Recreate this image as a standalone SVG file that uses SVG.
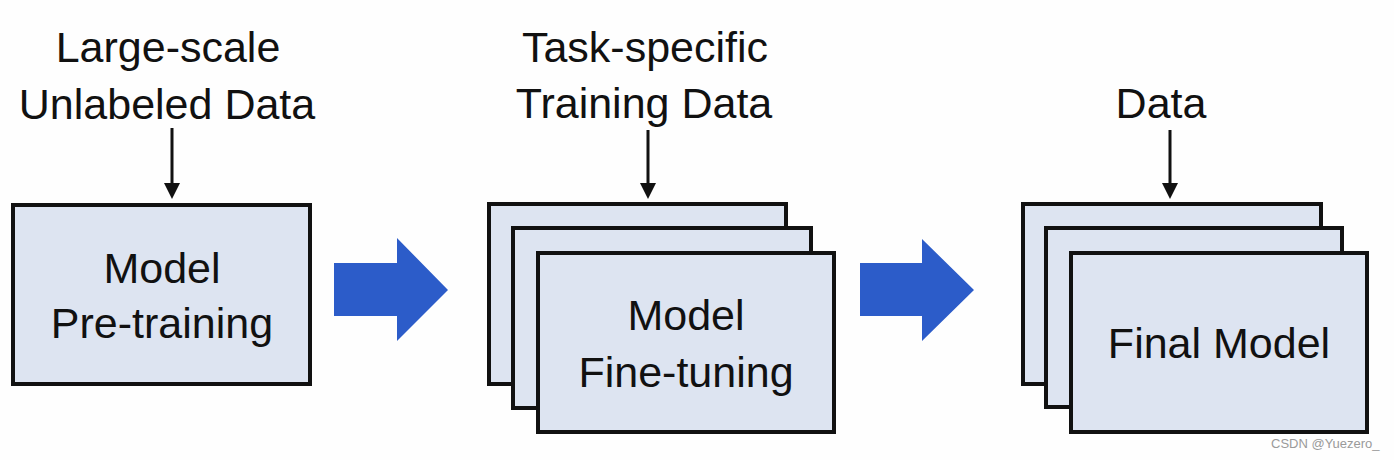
<svg xmlns="http://www.w3.org/2000/svg" width="1394" height="460" viewBox="0 0 1394 460">
<style>
.box{fill:#dde4f1;stroke:#111;stroke-width:4}
.t{font-family:"Liberation Sans",Arial,sans-serif;font-size:43px;fill:#111;text-anchor:middle}
.ln{stroke:#111;stroke-width:3;fill:none}
.hd{fill:#111}
.big{fill:#2c5cc9}
.wm{font-family:"Liberation Sans",Arial,sans-serif;font-size:13px;fill:#9a9a9a}
</style>
<rect width="1394" height="460" fill="#fefefe"/>
<g id="label-unlabeled">
<text class="t" x="168" y="62">Large-scale</text>
<text class="t" x="167" y="119">Unlabeled Data</text>
</g>
<g id="label-task">
<text class="t" x="645" y="62">Task-specific</text>
<text class="t" x="644" y="118">Training Data</text>
</g>
<g id="label-data">
<text class="t" x="1161" y="118">Data</text>
</g>
<g id="node-pretraining">
<rect class="box" x="13" y="205" width="297" height="179"/>
<text class="t" x="162" y="283">Model</text>
<text class="t" x="162" y="338">Pre-training</text>
</g>
<g id="node-finetuning">
<rect class="box" x="489" y="204" width="297" height="180"/>
<rect class="box" x="513" y="228" width="298" height="180"/>
<rect class="box" x="538" y="253" width="296" height="179"/>
<text class="t" x="686" y="330">Model</text>
<text class="t" x="686" y="387">Fine-tuning</text>
</g>
<g id="node-final">
<rect class="box" x="1023" y="204" width="298" height="180"/>
<rect class="box" x="1046" y="228" width="296" height="179"/>
<rect class="box" x="1071" y="253" width="296" height="179"/>
<text class="t" x="1219" y="358">Final Model</text>
</g>
<g id="connectors">
<line class="ln" x1="172" y1="128" x2="172" y2="186"/>
<polygon class="hd" points="164,183 180,183 172,199"/>
<line class="ln" x1="648" y1="130" x2="648" y2="186"/>
<polygon class="hd" points="640,183 656,183 648,199"/>
<line class="ln" x1="1170" y1="130" x2="1170" y2="186"/>
<polygon class="hd" points="1162,183 1178,183 1170,199"/>
<polygon class="big" points="334,263 397,263 397,238 448,290 397,341 397,316 334,316"/>
<polygon class="big" points="860,263 922,263 922,239 974,290 922,341 922,316 860,316"/>
</g>
<text class="wm" x="1271" y="448">CSDN @Yuezero_</text>
</svg>
